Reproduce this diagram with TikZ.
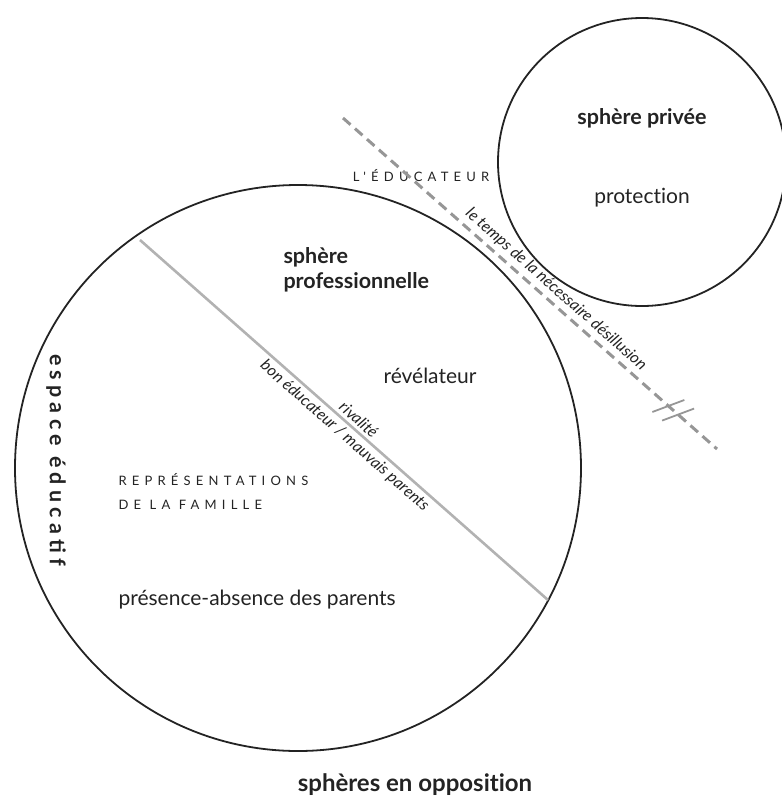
\documentclass[tikz,border=0pt]{standalone}
\usepackage{fontspec}
\setmainfont{Lato}[Ligatures=NoCommon]
\newfontfamily\trackedfont[LetterSpace=40]{Lato}
\newfontfamily\trackedbold[LetterSpace=24]{Lato}
\usetikzlibrary{positioning, calc}
\definecolor{InkGray}{RGB}{35,35,35}
\definecolor{RuleGray}{RGB}{178,178,178}
\definecolor{DashGray}{RGB}{150,150,150}

\begin{document}
\begin{tikzpicture}[
  x=1pt, y=-1pt,
  font=\fontsize{21}{24}\selectfont, text=InkGray,
  ring/.style={circle, draw=InkGray, line width=1.8pt, inner sep=0pt},
  bold/.style={font=\fontsize{21.5}{25}\selectfont\bfseries},
  caps/.style={font=\fontsize{13}{24}\selectfont\trackedfont, align=left},
  slant/.style={font=\fontsize{16}{18}\selectfont\itshape, sloped, text=InkGray, inner sep=1pt}
]
  \clip (0,0) rectangle (782,796);

  % spheres
  \node[ring, minimum size=566pt] (espace) at (298,468) {};
  \node[ring, minimum size=288pt] (privee) at (642,162) {};

  % private sphere
  \node[bold] (tPrivee) at (642,118) {sphère privée};
  \node (tProtection) at (642,198) {protection};
  \node[caps] (tEducateur) at (421,176) {L'ÉDUCATEUR};

  % professional sphere
  \node[bold, align=left, anchor=west] (tPro) at (280,270) {sphère\\professionnelle};
  \node (tRevel) at (430,376) {révélateur};
  \node[caps, anchor=west] (tRepr) at (115,491) {REPRÉSENTATIONS\\DE LA FAMILLE};
  \node[anchor=west] (tPresence) at (115,600) {présence-absence des parents};
  \node[font=\fontsize{21.5}{24}\selectfont\trackedbold\bfseries, rotate=-90] (tEspace) at (56,460) {espace éducatif};
  \node[font=\fontsize{24}{28}\selectfont\bfseries] (tTitre) at (415,785) {sphères en opposition};

  % rivalry line
  \coordinate (rivA) at (140,240);
  \coordinate (rivB) at (548,600);
  \draw[RuleGray, line width=2.6pt] (rivA) -- (rivB)
    node[slant, pos=0.52, above=2pt] (tRival) {rivalité}
    node[slant, pos=0.52, below=2pt] (tBon) {bon éducateur / mauvais parents};

  % disillusion line
  \coordinate (desA) at (343,118);
  \coordinate (desB) at (717,449);
  \draw[DashGray, line width=3pt, dash pattern=on 10pt off 6pt] (desA) -- (desB)
    node[slant, pos=0.547, above=3pt] (tTemps) {le temps de la nécessaire désillusion};
  \coordinate (brkA) at ($(desA)!0.87!(desB)$);
  \coordinate (brkB) at ($(desA)!0.896!(desB)$);
  \draw[DashGray, line width=1.8pt] ([shift={(-16,6)}]brkA) -- ([shift={(16,-6)}]brkA);
  \draw[DashGray, line width=1.8pt] ([shift={(-16,6)}]brkB) -- ([shift={(16,-6)}]brkB);
\end{tikzpicture}
\end{document}
